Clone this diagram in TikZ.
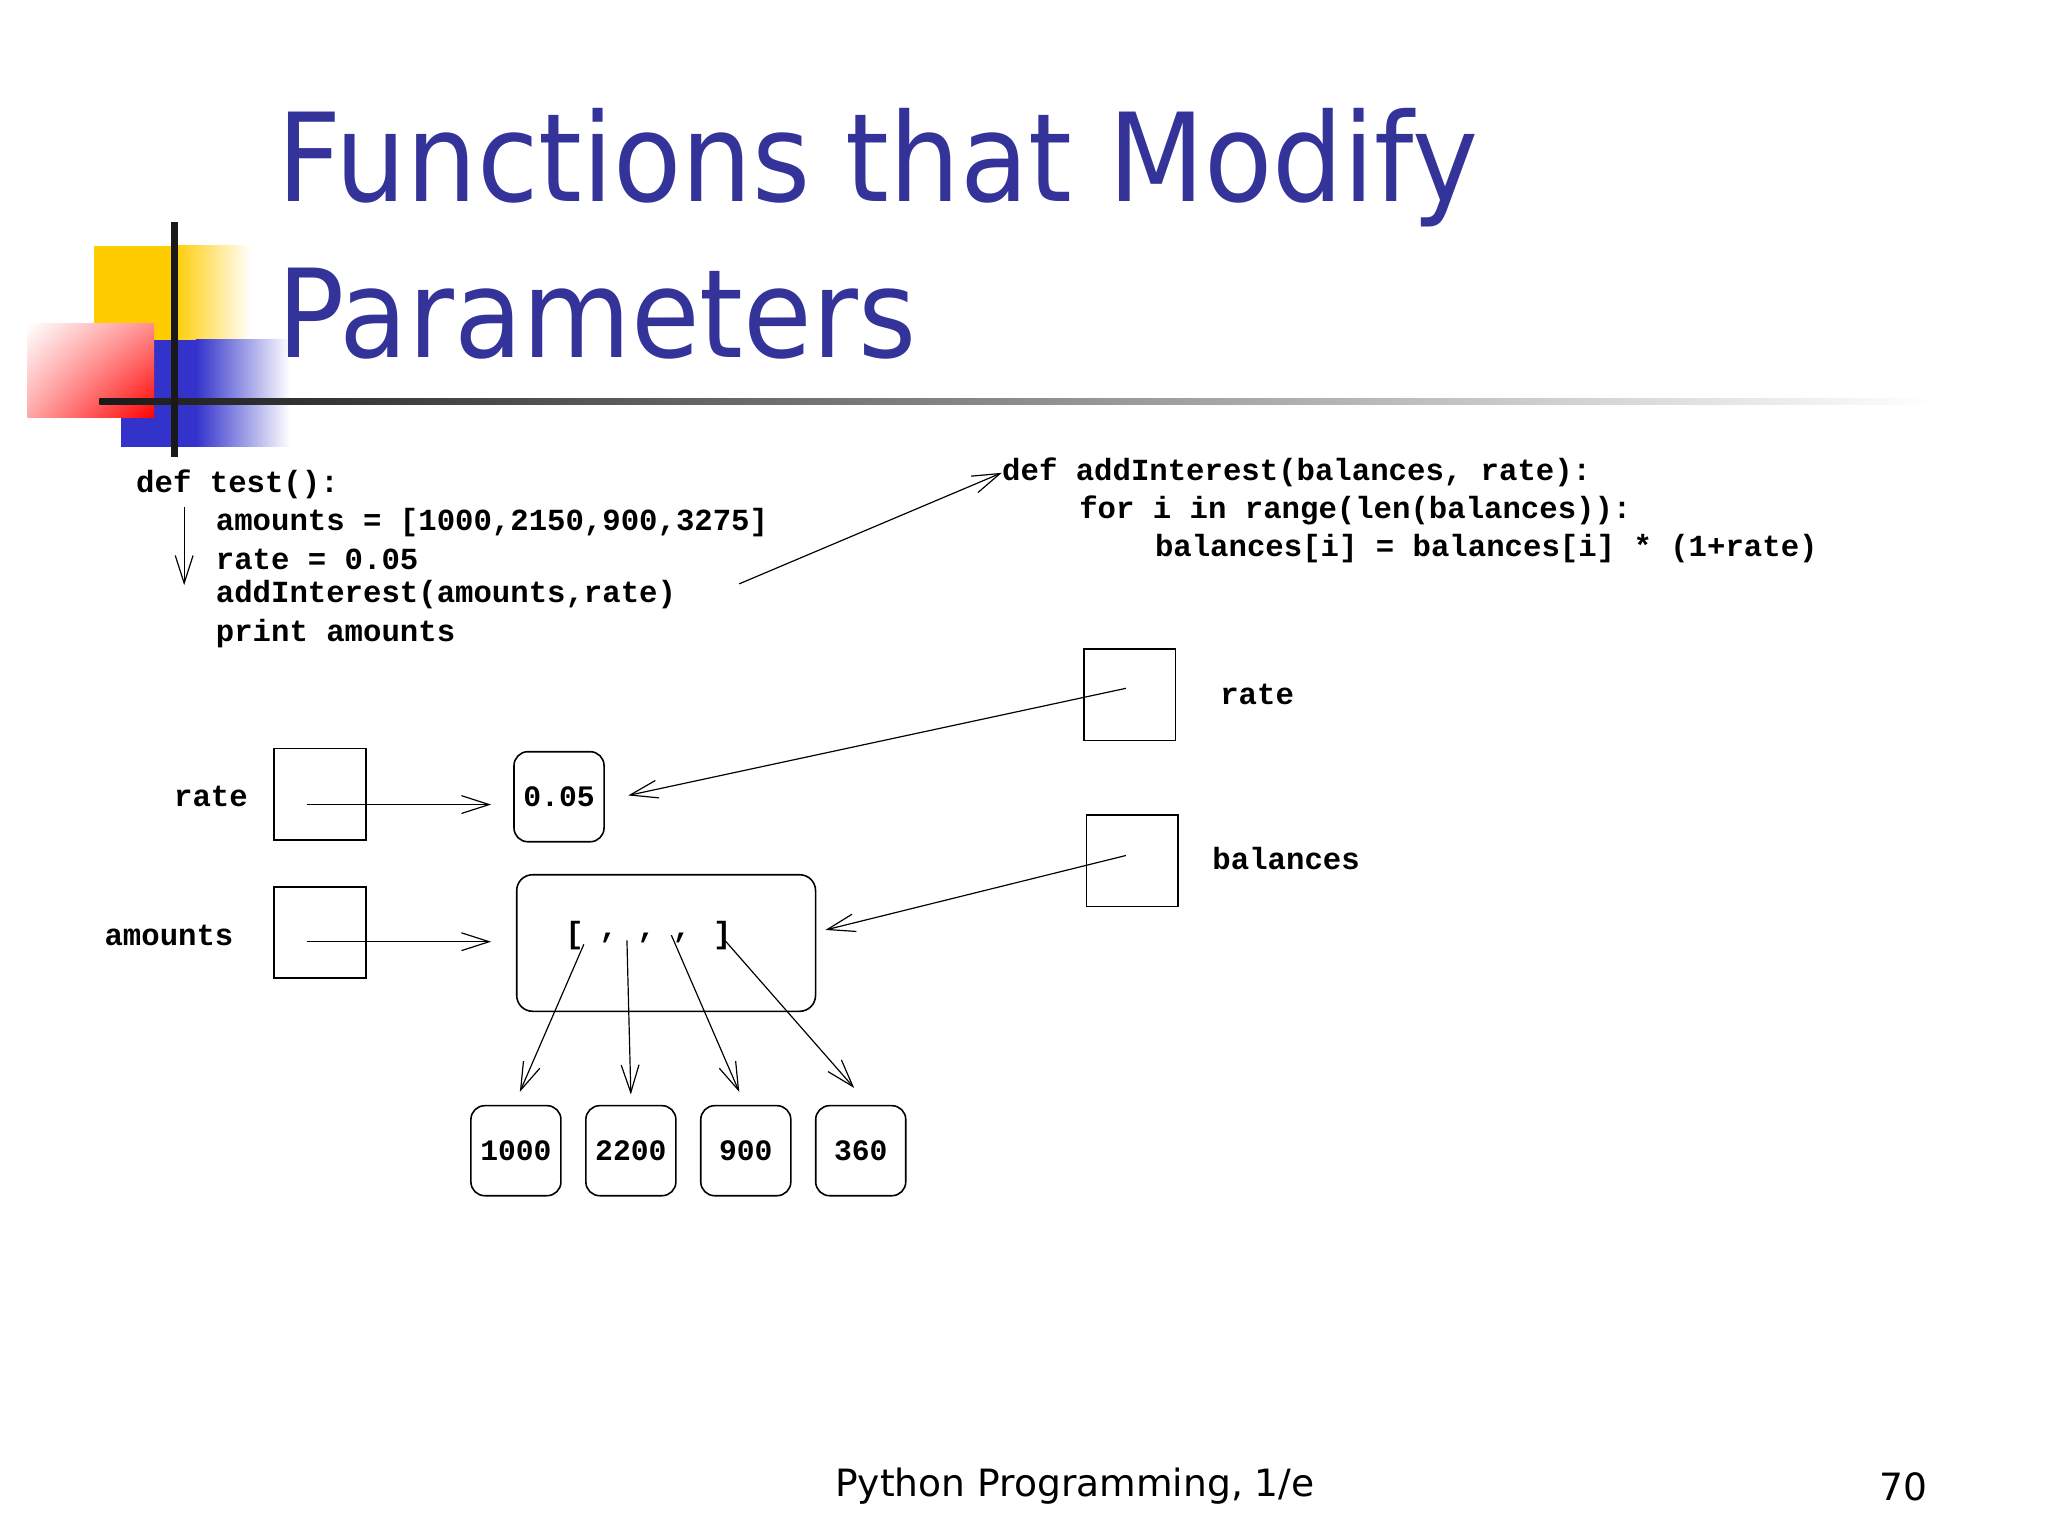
\documentclass[tikz,border=0pt]{standalone}
\usepackage{fontspec}
\setmainfont{DejaVu Sans}
\newfontfamily\codef{Liberation Mono}[BoldFont={* Bold}]
\usetikzlibrary{arrows.meta,shadings}
\begin{document}
\begin{tikzpicture}[x=0.66pt,y=-0.66pt,
  code/.style={font=\codef\bfseries\fontsize{15.5}{18}\selectfont, anchor=west, inner sep=0},
  box/.style={draw, thick, minimum size=46.2pt, inner sep=0},
  rbox/.style={draw, thick, minimum size=45.5pt, inner sep=0, rounded corners=7pt, font=\codef\bfseries\fontsize{15}{18}\selectfont},
  lbl/.style={font=\codef\bfseries\fontsize{15.5}{18}\selectfont, inner sep=0},
  arr/.style={-{Straight Barb[length=14pt,width=9pt]}, line width=0.6pt},
  title/.style={font=\fontsize{62}{70}\selectfont, text=titleblue, anchor=west, inner sep=0}]
\definecolor{titleblue}{RGB}{51,51,153}
\definecolor{logoblue}{RGB}{51,51,204}
\definecolor{logoyellow}{RGB}{255,204,0}
\useasboundingbox (0,0) rectangle (1568,1176);
% logo
\fill[logoyellow] (72,188) rectangle (133,260);
\shade[left color=logoyellow, right color=white] (133,188) rectangle (192,260);
\fill[logoblue] (93,260) rectangle (150,342);
\shade[left color=logoblue, right color=white] (150,260) rectangle (222,342);
\shade[lower right=red, upper left=white, lower left=red!35, upper right=red!45] (21,248) rectangle (118,320);
\shade[left color=black!90, middle color=black!70, right color=white] (76,305) rectangle (1480,310);
\fill[black!90] (131,170) rectangle (136,350);
% title
\node[title] (t1) at (212,128) {\scalebox{0.91}[1]{Functions that Modify}};
\node[title] (t2) at (212,240) {\scalebox{0.91}[1]{Parameters}};
% code left
\node[code] (c1) at (104,371) {def test():};
\node[code] (c2) at (165,400) {amounts = [1000,2150,900,3275]};
\node[code] (c3) at (165,428) {rate = 0.05};
\node[code] (c4) at (165,455) {addInterest(amounts,rate)};
\node[code] (c5) at (165,485) {print amounts};
\coordinate (da) at (141,388);
\coordinate (db) at (141,448);
\draw[arr] (da) -- (db);
% code right
\node[code] (d1) at (767,362) {def addInterest(balances, rate):};
\node[code] (d2) at (826,391) {for i in range(len(balances)):};
\node[code] (d3) at (884,420) {balances[i] = balances[i] * (1+rate)};
\coordinate (ca) at (566,447);
\draw[arr] (ca) -- (d1.west);
% right boxes
\node[box] (rr) at (865,532) {};
\node[lbl, anchor=west] (rrl) at (934,532) {rate};
\node[box] (bb) at (867,659) {};
\node[lbl, anchor=west] (bbl) at (928,657) {balances};
% left boxes
\node[box] (lr) at (245,608) {};
\node[lbl, anchor=east] (lrl) at (190,610) {rate};
\node[box] (la) at (245,714) {};
\node[lbl, anchor=east] (lal) at (179,716) {amounts};
% values
\node[rbox] (v05) at (428,610) {0.05};
\node[draw, thick, rounded corners=8pt, minimum width=151pt, minimum height=69pt, inner sep=0] (lst) at (510,722) {};
\node[lbl] (lb) at (440,716) {[};
\node[lbl] (k1) at (466,718) {,};
\node[lbl] (k2) at (495,718) {,};
\node[lbl] (k3) at (522,718) {,};
\node[lbl] (rb) at (553,716) {]};
\node[rbox] (n1) at (395,881) {1000};
\node[rbox] (n2) at (483,881) {2200};
\node[rbox] (n3) at (571,881) {900};
\node[rbox] (n4) at (659,881) {360};
% arrows
\coordinate (lrs) at (235,616);
\coordinate (lre) at (376,616);
\draw[arr] (lrs) -- (lre);
\coordinate (las) at (235,721);
\coordinate (lae) at (376,721);
\draw[arr] (las) -- (lae);
\coordinate (rrs) at (862,527);
\coordinate (rre) at (481,609);
\draw[arr] (rrs) -- (rre);
\coordinate (bbs) at (862,655);
\coordinate (bbe) at (632,712);
\draw[arr] (bbs) -- (bbe);
\coordinate (e1) at (447,723); \coordinate (f1) at (398,836);
\coordinate (e2) at (480,720); \coordinate (f2) at (483,838);
\coordinate (e3) at (514,716); \coordinate (f3) at (566,836);
\coordinate (e4) at (555,720); \coordinate (f4) at (654,833);
\draw[arr] (e1) -- (f1);
\draw[arr] (e2) -- (f2);
\draw[arr] (e3) -- (f3);
\draw[arr] (e4) -- (f4);
% footer
\node[font=\fontsize{19}{24}\selectfont, inner sep=0] (ft) at (823,1138) {Python Programming, 1/e};
\node[font=\fontsize{19}{24}\selectfont, inner sep=0] (pg) at (1457,1138) {70};
\end{tikzpicture}
\end{document}
